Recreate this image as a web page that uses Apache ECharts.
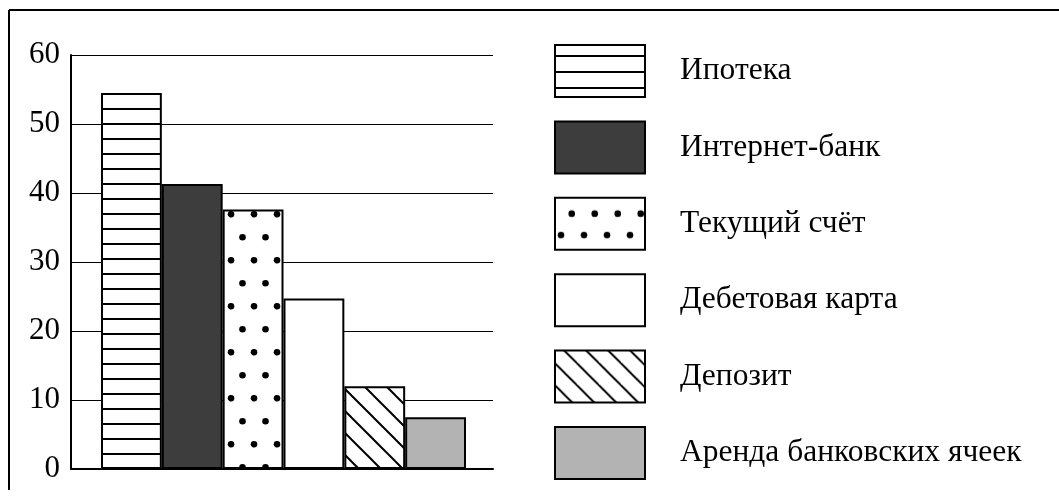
<!DOCTYPE html>
<html>
<head>
<meta charset="utf-8">
<script src="https://cdn.jsdelivr.net/npm/echarts@6/dist/echarts.min.js"></script>
<style>
html,body{margin:0;padding:0;background:#fff;}
#chart{width:1059px;height:502px;}
</style>
</head>
<body>
<div id="chart"></div>
<script>
// ---- data ----
var categories = ['Ипотека', 'Интернет-банк', 'Текущий счёт', 'Дебетовая карта', 'Депозит', 'Аренда банковских ячеек'];
var values = [54.5, 41.3, 37.6, 24.7, 12.0, 7.5];
var yTicks = [0, 10, 20, 30, 40, 50, 60];

// ---- patterns ----
function makeCanvas(w, h) {
  var c = document.createElement('canvas');
  c.width = w; c.height = h;
  var ctx = c.getContext('2d');
  ctx.fillStyle = '#fff';
  ctx.fillRect(0, 0, w, h);
  return [c, ctx];
}
function hLines(period, off) {
  var r = makeCanvas(8, period), c = r[0], ctx = r[1];
  ctx.fillStyle = '#000';
  ctx.fillRect(0, off, 8, 2);
  return c;
}
function dots(pts, rad) {
  var w = 23, h = 46;
  var r = makeCanvas(w, h), c = r[0], ctx = r[1];
  ctx.fillStyle = '#000';
  pts.forEach(function (p) {
    for (var dx = -1; dx <= 1; dx++) for (var dy = -1; dy <= 1; dy++) {
      ctx.beginPath();
      ctx.arc(p[0] + dx * w, p[1] + dy * h, rad, 0, Math.PI * 2);
      ctx.fill();
    }
  });
  return c;
}
function diag(shift) {
  var s = 22;
  var r = makeCanvas(s, s), c = r[0], ctx = r[1];
  ctx.strokeStyle = '#000';
  ctx.lineWidth = 2;
  for (var k = -2; k <= 1; k++) {
    var x0 = k * s + shift;
    ctx.beginPath();
    ctx.moveTo(x0 - 4, -4);
    ctx.lineTo(x0 + s + 4, s + 4);
    ctx.stroke();
  }
  return c;
}
var fills = [
  { image: hLines(15, 3), repeat: 'repeat' },
  '#3d3d3d',
  { image: dots([[1, 30.3], [12.5, 7.3]], 3.3), repeat: 'repeat' },
  '#ffffff',
  { image: diag(0), repeat: 'repeat' },
  '#b3b3b3'
];
var legendFills = [
  { image: hLines(16, 10), repeat: 'repeat' },
  '#3d3d3d',
  { image: dots([[16.7, 15.9], [6, 37.2]], 3.3), repeat: 'repeat' },
  '#ffffff',
  { image: diag(9.3), repeat: 'repeat' },
  '#b3b3b3'
];

var serif = '"Liberation Serif", "DejaVu Serif", serif';

var series = categories.map(function (name, i) {
  return {
    name: name,
    type: 'bar',
    xAxisIndex: 1,
    yAxisIndex: 1,
    stack: 'all',
    barWidth: '100%',
    data: categories.map(function (c, j) { return j === i ? values[i] : '-'; }),
    itemStyle: { color: fills[i], borderColor: '#000', borderWidth: 2 }
  };
});

var chart = echarts.init(document.getElementById('chart'), null, { renderer: 'canvas' });
chart.setOption({
  animation: false,
  backgroundColor: '#fff',
  grid: [
    { left: 71, right: 566, top: 55, bottom: 33 },
    { left: 101, right: 593, top: 55, bottom: 33 }
  ],
  xAxis: [
    { gridIndex: 0, type: 'value', min: 0, max: 1, axisLine: { show: true, lineStyle: { color: '#000', width: 2 } },
      axisTick: { show: false }, axisLabel: { show: false }, splitLine: { show: false } },
    { gridIndex: 1, type: 'category', data: categories, show: false }
  ],
  yAxis: [
    { gridIndex: 0, type: 'value', min: yTicks[0], max: yTicks[yTicks.length - 1], interval: 10,
      axisLine: { show: true, lineStyle: { color: '#000', width: 2 } },
      axisTick: { show: false },
      axisLabel: { color: '#000', fontFamily: serif, fontSize: 31, margin: 11 },
      splitLine: { show: true, lineStyle: { color: '#000', width: 1 } } },
    { gridIndex: 1, type: 'value', min: 0, max: 60, show: false, splitLine: { show: false } }
  ],
  legend: {
    orient: 'vertical',
    left: 554,
    top: 44,
    padding: 0,
    icon: 'rect',
    itemWidth: 90,
    itemHeight: 52,
    itemGap: 22.4,
    selectedMode: false,
    data: categories.map(function (name, i) {
      return { name: name, itemStyle: { color: legendFills[i], borderColor: '#000', borderWidth: 2 } };
    }),
    itemStyle: { borderColor: '#000', borderWidth: 2 },
    textStyle: { color: '#000', fontFamily: serif, fontSize: 31.5, padding: [0, 0, 0, 30] }
  },
  graphic: [
    { type: 'line', shape: { x1: 9, y1: 10, x2: 1059, y2: 10 }, style: { stroke: '#000', lineWidth: 2 } },
    { type: 'line', shape: { x1: 9, y1: 10, x2: 9, y2: 490 }, style: { stroke: '#000', lineWidth: 2 } }
  ],
  series: series
});
</script>
</body>
</html>
